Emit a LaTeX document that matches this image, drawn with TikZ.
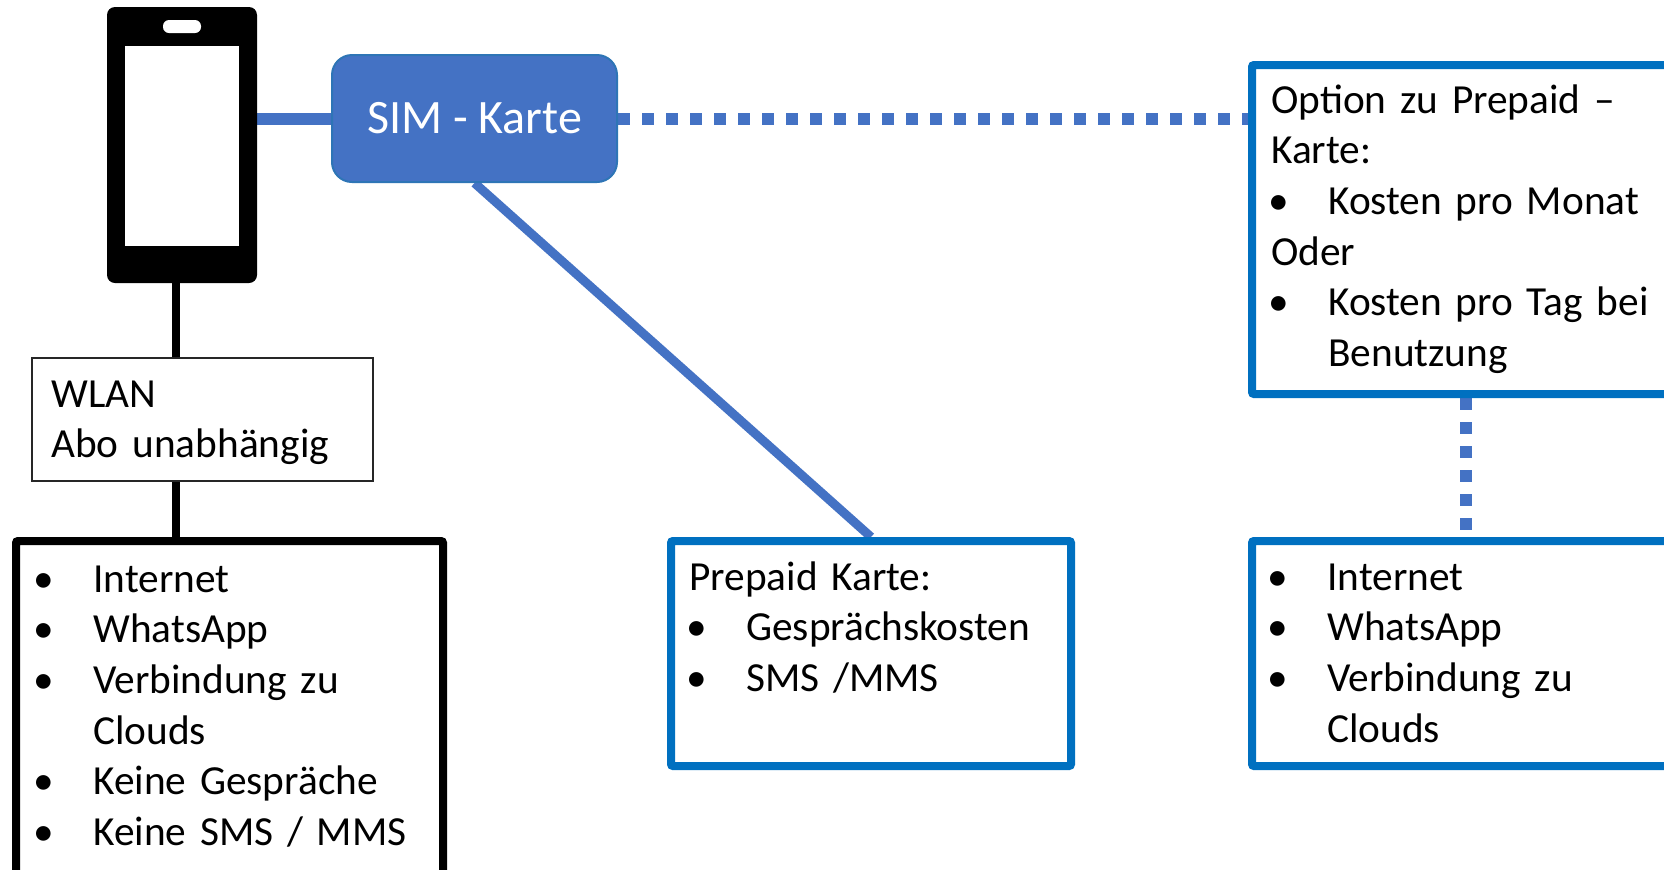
\documentclass[tikz,border=0pt]{standalone}
\usepackage{fontspec}
\setmainfont{Carlito}
\newdimen\pxu \pxu=0.75pt
\definecolor{boxblue}{HTML}{0070C0}
\definecolor{linkblue}{HTML}{4472C4}
\definecolor{simborder}{HTML}{2E75B6}
\newcommand{\bitem}[1]{\makebox[57\pxu][l]{\hspace{8\pxu}\makebox[0pt]{\textbullet}}#1}
\newcommand{\cont}[1]{\hspace*{57\pxu}#1}
\pgfdeclarelayer{background}
\pgfdeclarelayer{canvas}
\pgfsetlayers{canvas,background,main}
\begin{document}
\begin{tikzpicture}[x=0.75pt,y=-0.75pt,
  bluebox/.style={draw=boxblue, line width=6pt, fill=white, inner sep=0pt, rounded corners=1.5pt},
  blackbox/.style={draw=black, line width=6pt, fill=white, inner sep=0pt, rounded corners=1.5pt},
  thinbox/.style={draw=black!85, line width=1.2pt, fill=white, inner sep=0pt},
  txt/.style={anchor=base west, inner sep=0pt, text width=420pt, align=left,
    font=\fontsize{31}{38}\selectfont},
  solidlink/.style={draw=linkblue, line width=9pt},
  diaglink/.style={draw=linkblue, line width=6.75pt},
  dotlink/.style={draw=linkblue, line width=9pt, dash pattern=on 9pt off 9pt},
  blacklink/.style={draw=black, line width=6pt}]
\useasboundingbox (0,0) rectangle (1664,869);
\clip (0,0) rectangle (1664,869);
\begin{pgfonlayer}{canvas}
\fill[white] (0,0) rectangle (1664,869);
\end{pgfonlayer}

% phone
\node[fill=black, rounded corners=6pt, minimum width=112.5pt, minimum height=207pt, inner sep=0pt] (phone) at (182,145) {};
\fill[white] (125,46) rectangle (239,246);
\fill[white, rounded corners=4.5pt] (163,20) rectangle (201,33);

% SIM card
\node[fill=linkblue, draw=simborder, line width=1.5pt, rounded corners=15pt,
  minimum width=213.75pt, minimum height=95.25pt, inner sep=0pt,
  text=white, font=\fontsize{36}{43}\selectfont] (sim) at (474.5,118.5) {SIM - Karte};

% boxes
\node[thinbox, minimum width=255.75pt, minimum height=92.25pt] (wlan) at (202.5,419.5) {};
\node[blackbox, minimum width=320.25pt, minimum height=269.25pt] (leftbox) at (229.5,720.5) {};
\node[bluebox, minimum width=300pt, minimum height=168.75pt] (prepaid) at (871,653.5) {};
\node[bluebox, minimum width=321pt, minimum height=246.75pt] (option) at (1466,229.5) {};
\node[bluebox, minimum width=321pt, minimum height=168.75pt] (rbox) at (1466,653.5) {};

% texts
\node[txt] (wlantext) at (51,407) {WLAN\\Abo unabhängig};
\node[txt] (lefttext) at (36,592) {\bitem{Internet}\\\bitem{WhatsApp}\\\bitem{Verbindung zu}\\\cont{Clouds}\\\bitem{Keine Gespräche}\\\bitem{Keine SMS / MMS}};
\node[txt] (prepaidtext) at (689,590) {Prepaid Karte:\\\bitem{Gesprächskosten}\\\bitem{SMS /MMS}};
\node[txt] (optiontext) at (1271,113) {Option zu Prepaid –\\Karte:\\\bitem{Kosten pro Monat}\\Oder\\\bitem{Kosten pro Tag bei}\\\cont{Benutzung}};
\node[txt] (rtext) at (1270,590) {\bitem{Internet}\\\bitem{WhatsApp}\\\bitem{Verbindung zu}\\\cont{Clouds}};

% connectors
\coordinate (lx) at (176,0);
\begin{pgfonlayer}{background}
\draw[solidlink] ([xshift=-3.75pt]phone.east |- sim.west) -- (sim.west);
\draw[dotlink] (sim.east) -- (sim.east -| option.west);
\draw[dotlink] (option.south) -- (rbox.north);
\draw[diaglink] (sim.south) -- (prepaid.north);
\draw[blacklink] (phone.south -| lx) -- (wlan.north -| lx);
\draw[blacklink] (wlan.south -| lx) -- (leftbox.north -| lx);
\end{pgfonlayer}
\end{tikzpicture}
\end{document}
